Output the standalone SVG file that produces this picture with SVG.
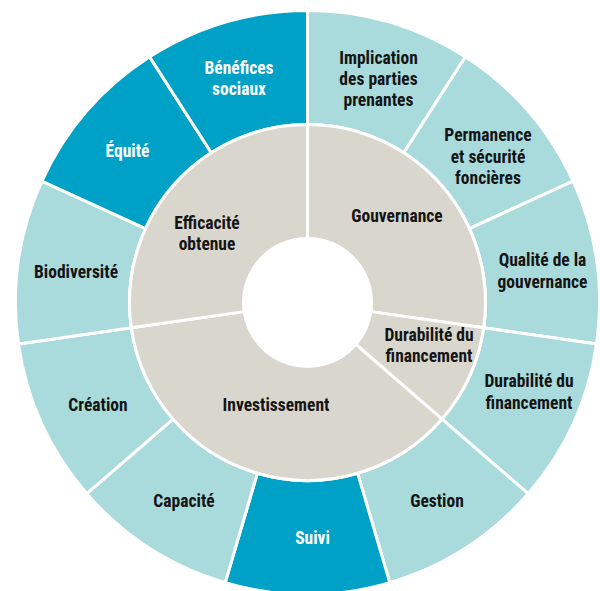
<svg xmlns="http://www.w3.org/2000/svg" width="600" height="591" viewBox="0 0 600 591">
<style>
.seg{stroke:#ffffff;stroke-width:3;stroke-linejoin:round}
.light{fill:#a9dadc}
.dark{fill:#00a1c7}
.grey{fill:#d9d7cd}
text{font-family:"Liberation Sans Narrow","Roboto Condensed","DejaVu Sans Condensed","Liberation Sans",sans-serif;font-weight:bold;font-size:17.5px;text-anchor:middle;fill:#141414}
text.w{fill:#ffffff}
</style>
<rect width="600" height="591" fill="#ffffff"/>
<g id="outer-ring">
<g id="implication"><path class="seg light" d="M307.5,10.5 A292,292 0 0 1 465.36,56.84 L403.73,152.75 A178,178 0 0 0 307.5,124.5 Z"/><text x="378.5" y="64">Implication</text><text x="378.5" y="85">des parties</text><text x="378.5" y="106">prenantes</text></g>
<g id="permanence"><path class="seg light" d="M465.36,56.84 A292,292 0 0 1 573.1,181.2 L469.41,228.56 A178,178 0 0 0 403.73,152.75 Z"/><text x="488" y="141">Permanence</text><text x="488" y="162.5">et sécurité</text><text x="488" y="184">foncières</text></g>
<g id="qualite"><path class="seg light" d="M573.1,181.2 A292,292 0 0 1 596.52,344.05 L483.68,327.83 A178,178 0 0 0 469.41,228.56 Z"/><text x="542.5" y="266">Qualité de la</text><text x="542.5" y="287.5">gouvernance</text></g>
<g id="durabilite-outer"><path class="seg light" d="M596.52,344.05 A292,292 0 0 1 528.16,493.73 L442.01,419.07 A178,178 0 0 0 483.68,327.83 Z"/><text x="529" y="387">Durabilité du</text><text x="529" y="408.5">financement</text></g>
<g id="gestion"><path class="seg light" d="M528.16,493.73 A292,292 0 0 1 389.76,582.67 L357.64,473.29 A178,178 0 0 0 442.01,419.07 Z"/><text x="437" y="507">Gestion</text></g>
<g id="suivi"><path class="seg dark" d="M389.76,582.67 A292,292 0 0 1 225.24,582.67 L257.36,473.29 A178,178 0 0 0 357.64,473.29 Z"/><text class="w" x="312.5" y="543.5">Suivi</text></g>
<g id="capacite"><path class="seg light" d="M225.24,582.67 A292,292 0 0 1 86.84,493.73 L172.99,419.07 A178,178 0 0 0 257.36,473.29 Z"/><text x="184" y="507">Capacité</text></g>
<g id="creation"><path class="seg light" d="M86.84,493.73 A292,292 0 0 1 18.48,344.05 L131.32,327.83 A178,178 0 0 0 172.99,419.07 Z"/><text x="98" y="410.5">Création</text></g>
<g id="biodiversite"><path class="seg light" d="M18.48,344.05 A292,292 0 0 1 41.9,181.2 L145.59,228.56 A178,178 0 0 0 131.32,327.83 Z"/><text x="76" y="278">Biodiversité</text></g>
<g id="equite"><path class="seg dark" d="M41.9,181.2 A292,292 0 0 1 149.64,56.84 L211.27,152.75 A178,178 0 0 0 145.59,228.56 Z"/><text class="w" x="127.5" y="156.5">Équité</text></g>
<g id="benefices"><path class="seg dark" d="M149.64,56.84 A292,292 0 0 1 307.5,10.5 L307.5,124.5 A178,178 0 0 0 211.27,152.75 Z"/><text class="w" x="239" y="74">Bénéfices</text><text class="w" x="239" y="95">sociaux</text></g>
</g>
<g id="inner-ring">
<g id="gouvernance"><path class="seg grey" d="M307.5,124.5 A178,178 0 0 1 483.68,327.83 L370.85,311.61 A64,64 0 0 0 307.5,238.5 Z"/><text x="397" y="222">Gouvernance</text></g>
<g id="durabilite-inner"><path class="seg grey" d="M483.68,327.83 A178,178 0 0 1 442.01,419.07 L355.86,344.41 A64,64 0 0 0 370.85,311.61 Z"/><text x="429" y="341">Durabilité du</text><text x="429" y="362">financement</text></g>
<g id="investissement"><path class="seg grey" d="M442.01,419.07 A178,178 0 0 1 131.32,327.83 L244.15,311.61 A64,64 0 0 0 355.86,344.41 Z"/><text x="276" y="410.5">Investissement</text></g>
<g id="efficacite"><path class="seg grey" d="M131.32,327.83 A178,178 0 0 1 307.5,124.5 L307.5,238.5 A64,64 0 0 0 244.15,311.61 Z"/><text x="207" y="228.5">Efficacité</text><text x="207" y="249.5">obtenue</text></g>
</g>
<g id="connectors"/>
</svg>
